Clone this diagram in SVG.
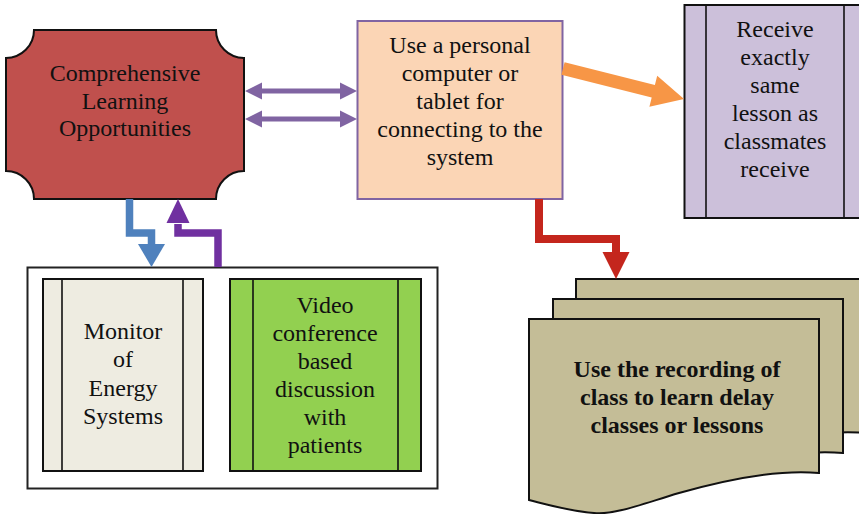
<svg xmlns="http://www.w3.org/2000/svg" width="859" height="514" viewBox="0 0 859 514">
  <style>
    .t { font-family: "Liberation Serif", "Times New Roman", serif; font-size: 24px; fill: #111; text-anchor: middle; }
    .b { font-weight: bold; }
    .edge { stroke: #111; stroke-width: 2; }
    .inner { stroke: #111; stroke-width: 1.6; fill: none; }
    .doc { fill: #C4BD97; stroke: #111; stroke-width: 2; }
  </style>
  <defs>
    <!-- flowchart document sheet, origin at top-left -->
    <path id="sheet" d="M0,0 H290 V154 C250,150 200,160 150,174 C110,186 85,196 65,194 C40,192 20,186 0,181 Z"/>
  </defs>
  <rect width="859" height="514" fill="#fff"/>

  <g id="learning">
    <path class="edge" fill="#C0504D" d="M34,30 H216 A28,28 0 0 0 244,58 V171 A28,28 0 0 0 216,199 H34 A28,28 0 0 0 6,171 V58 A28,28 0 0 0 34,30 Z"/>
    <text class="t" x="125" y="81">Comprehensive</text>
    <text class="t" x="125" y="109">Learning</text>
    <text class="t" x="125" y="136">Opportunities</text>
  </g>

  <g id="device">
    <rect x="357.5" y="21" width="205" height="178" fill="#FBD5B5" stroke="#8064A2" stroke-width="2"/>
    <text class="t" x="460" y="53">Use a personal</text>
    <text class="t" x="460" y="81">computer or</text>
    <text class="t" x="460" y="109">tablet for</text>
    <text class="t" x="460" y="137">connecting to the</text>
    <text class="t" x="460" y="165">system</text>
  </g>

  <g id="same-lesson">
    <rect class="edge" x="684.5" y="5" width="190" height="213" fill="#CCC0DA"/>
    <line class="inner" x1="706" y1="5" x2="706" y2="218"/>
    <line class="inner" x1="844" y1="5" x2="844" y2="218"/>
    <text class="t" x="775" y="37">Receive</text>
    <text class="t" x="775" y="65">exactly</text>
    <text class="t" x="775" y="93">same</text>
    <text class="t" x="775" y="121">lesson as</text>
    <text class="t" x="775" y="149">classmates</text>
    <text class="t" x="775" y="177">receive</text>
  </g>

  <g id="tools">
    <rect x="27.5" y="267.5" width="410" height="221" fill="#fff" stroke="#222" stroke-width="2"/>
    <g id="monitor">
      <rect class="edge" x="43" y="279" width="160" height="192" fill="#EEECE1"/>
      <line class="inner" x1="62" y1="279" x2="62" y2="471"/>
      <line class="inner" x1="183" y1="279" x2="183" y2="471"/>
      <text class="t" x="123" y="339">Monitor</text>
      <text class="t" x="123" y="367">of</text>
      <text class="t" x="123" y="396">Energy</text>
      <text class="t" x="123" y="424">Systems</text>
    </g>
    <g id="video">
      <rect class="edge" x="230" y="279" width="191" height="192" fill="#92D050"/>
      <line class="inner" x1="253" y1="279" x2="253" y2="471"/>
      <line class="inner" x1="398" y1="279" x2="398" y2="471"/>
      <text class="t" x="325" y="313">Video</text>
      <text class="t" x="325" y="341">conference</text>
      <text class="t" x="325" y="369">based</text>
      <text class="t" x="325" y="397">discussion</text>
      <text class="t" x="325" y="425">with</text>
      <text class="t" x="325" y="453">patients</text>
    </g>
  </g>

  <g id="recording">
    <use href="#sheet" class="doc" x="576" y="279"/>
    <use href="#sheet" class="doc" x="553" y="299"/>
    <use href="#sheet" class="doc" x="529" y="319"/>
    <text class="t b" x="677" y="377">Use the recording of</text>
    <text class="t b" x="677" y="405">class to learn delay</text>
    <text class="t b" x="677" y="433">classes or lessons</text>
  </g>

  <g id="connectors">
    <!-- two-way links between the learning plaque and the device box -->
    <polygon fill="#8064A2" points="245,91 262,82.5 262,88.5 340,88.5 340,82.5 357,91 340,99.5 340,93.5 262,93.5 262,99.5"/>
    <polygon fill="#8064A2" points="245,119 262,110.5 262,116.5 340,116.5 340,110.5 357,119 340,127.5 340,121.5 262,121.5 262,127.5"/>
    <!-- device to same lesson -->
    <polygon fill="#F79646" points="564.6,62.2 654.9,85 657.2,75.7 684,99 649.4,106.8 651.7,97.6 561.4,74.8"/>
    <!-- learning down to tools -->
    <polyline fill="none" stroke="#4F81BD" stroke-width="7.5" stroke-linejoin="miter" points="129.5,199 129.5,233 151.5,233 151.5,246"/>
    <polygon fill="#4F81BD" points="138,244 165,244 151.5,267"/>
    <!-- tools up to learning -->
    <polyline fill="none" stroke="#7030A0" stroke-width="7.5" stroke-linejoin="miter" points="218,267 218,233 178,233 178,224"/>
    <polygon fill="#7030A0" points="166.5,223 189.5,223 178,199"/>
    <!-- device down to recording -->
    <polyline fill="none" stroke="#C4261D" stroke-width="8" stroke-linejoin="miter" points="539,199 539,239 616,239 616,254"/>
    <polygon fill="#C4261D" points="602.5,252 629.5,252 616,279"/>
  </g>
</svg>
